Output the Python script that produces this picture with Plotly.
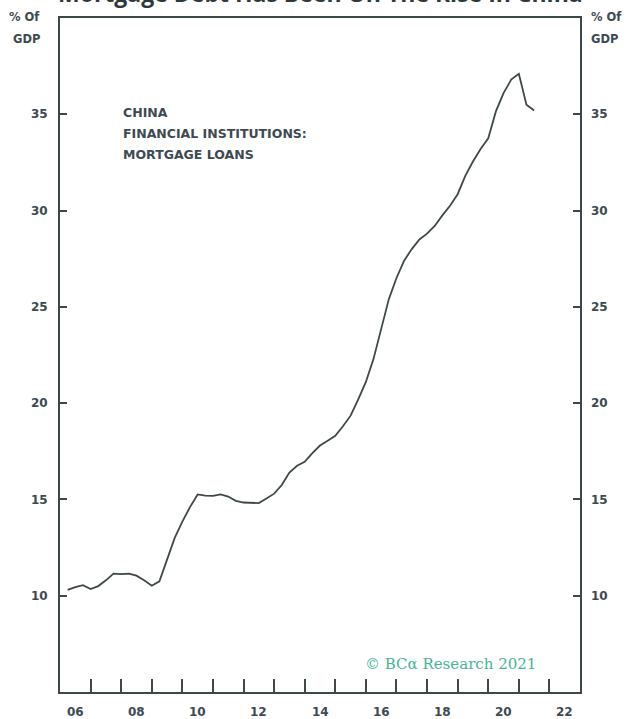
import plotly.graph_objects as go

# Quarterly observations, % of GDP
quarters = [
    2006.25, 2006.5, 2006.75, 2007.0, 2007.25, 2007.5, 2007.75, 2008.0,
    2008.25, 2008.5, 2008.75, 2009.0, 2009.25, 2009.5, 2009.75, 2010.0,
    2010.25, 2010.5, 2010.75, 2011.0, 2011.25, 2011.5, 2011.75, 2012.0,
    2012.25, 2012.5, 2012.75, 2013.0, 2013.25, 2013.5, 2013.75, 2014.0,
    2014.25, 2014.5, 2014.75, 2015.0, 2015.25, 2015.5, 2015.75, 2016.0,
    2016.25, 2016.5, 2016.75, 2017.0, 2017.25, 2017.5, 2017.75, 2018.0,
    2018.25, 2018.5, 2018.75, 2019.0, 2019.25, 2019.5, 2019.75, 2020.0,
    2020.25, 2020.5, 2020.75, 2021.0, 2021.25, 2021.5,
]
mortgage_loans = [
    10.3, 10.45, 10.55, 10.35, 10.5, 10.8, 11.15, 11.12,
    11.15, 11.04, 10.8, 10.52, 10.75, 11.85, 13.0, 13.85,
    14.6, 15.26, 15.2, 15.18, 15.26, 15.15, 14.93, 14.84,
    14.82, 14.81, 15.05, 15.3, 15.75, 16.4, 16.75, 16.95,
    17.4, 17.8, 18.05, 18.3, 18.8, 19.35, 20.2, 21.1,
    22.3, 23.9, 25.4, 26.5, 27.4, 28.0, 28.5, 28.8,
    29.2, 29.75, 30.25, 30.85, 31.8, 32.55, 33.2, 33.75,
    35.15, 36.1, 36.8, 37.1, 35.5, 35.2,
]

y_ticks = [10, 15, 20, 25, 30, 35]
year_ticks = list(range(2007, 2023))
x_label_pos = [2006.5, 2008.5, 2010.5, 2012.5, 2014.5, 2016.5, 2018.5, 2020.5, 2022.5]
x_label_text = ["06", "08", "10", "12", "14", "16", "18", "20", "22"]

series_lines = ["CHINA", "FINANCIAL INSTITUTIONS:", "MORTGAGE LOANS"]

AXIS = "#3d4848"
TEXT = "#3d4a52"
FONT = "DejaVu Sans"

fig = go.Figure()
fig.add_trace(go.Scatter(
    x=quarters, y=mortgage_loans, mode="lines",
    line=dict(color="#3f4848", width=1.8),
    showlegend=False, hoverinfo="skip",
))
# empty trace so the right-hand axis is drawn
fig.add_trace(go.Scatter(x=[None], y=[None], yaxis="y2", showlegend=False,
                         hoverinfo="skip"))

tick_font = dict(family=FONT, size=12, color=TEXT, weight="bold")

fig.update_layout(
    width=640, height=719,
    margin=dict(l=60, r=60, t=18, b=27),
    paper_bgcolor="white", plot_bgcolor="white",
    xaxis=dict(
        range=[2006, 2023], tickvals=year_ticks, ticktext=[""] * len(year_ticks),
        ticks="inside", ticklen=13, tickwidth=2, tickcolor=AXIS,
        showline=True, linecolor=AXIS, linewidth=2, mirror=True,
        showgrid=False, zeroline=False,
    ),
    yaxis=dict(
        range=[5, 40], tickvals=y_ticks, ticks="inside", ticklen=7,
        tickwidth=2, tickcolor=AXIS, tickfont=tick_font,
        showline=True, linecolor=AXIS, linewidth=2, mirror=True,
        showgrid=False, zeroline=False, ticklabelstandoff=8,
    ),
    yaxis2=dict(
        range=[5, 40], tickvals=y_ticks, ticks="inside", ticklen=7,
        tickwidth=2, tickcolor=AXIS, tickfont=tick_font,
        overlaying="y", side="right", showline=False,
        showgrid=False, zeroline=False, ticklabelstandoff=10,
    ),
)

annotations = []
for pos, txt in zip(x_label_pos, x_label_text):
    annotations.append(dict(
        x=pos, y=0, xref="x", yref="paper", text=txt, showarrow=False,
        yanchor="top", yshift=-11, font=tick_font,
    ))

# unit labels above both y axes
unit_font = dict(family=FONT, size=11.5, color=TEXT, weight="bold")
for xp, anchor, dx in [(0, "right", -18), (1, "left", 9)]:
    for txt, dy in [("% Of", 1), ("GDP", -21)]:
        annotations.append(dict(
            x=xp, y=1, xref="paper", yref="paper", text=txt,
            showarrow=False, xanchor=anchor, yanchor="middle",
            xshift=dx, yshift=dy, font=unit_font,
        ))

# series label, one line per annotation for wider line spacing
for i, txt in enumerate(series_lines):
    annotations.append(dict(
        x=2008.0, y=35.1, xref="x", yref="y", text=txt,
        showarrow=False, xanchor="left", yanchor="middle", yshift=-21 * i,
        font=dict(family=FONT, size=12.5, color=TEXT, weight="bold"),
    ))

annotations.append(dict(
    x=2018.75, y=6.45, xref="x", yref="y", text="© BCα Research 2021",
    showarrow=False, xanchor="center", yanchor="middle",
    font=dict(family="DejaVu Serif", size=15, color="#45b596"),
))

annotations.append(dict(
    x=0.5, y=1, xref="paper", yref="paper",
    text="Mortgage Debt Has Been On The Rise In China",
    showarrow=False, xanchor="center", yanchor="bottom", yshift=7,
    font=dict(family="Open Sans", size=23, color="#2e3a3a", weight="bold"),
))

fig.update_layout(annotations=annotations)
fig.write_html("out.html")
